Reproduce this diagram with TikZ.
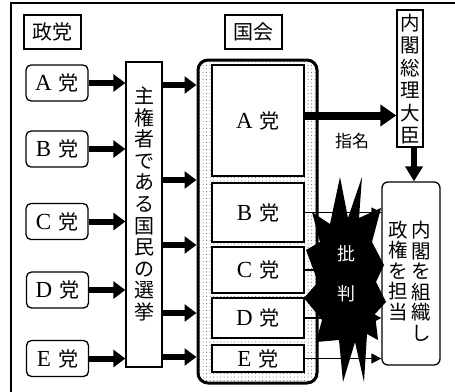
\documentclass[tikz,border=0pt]{standalone}
\usepackage{fontspec}
\setmainfont{Liberation Serif}
\newfontfamily\jp{Noto Sans CJK JP}
\newfontfamily\lat{Liberation Serif}
\newcommand{\pty}[1]{{\lat\fontsize{23}{24}\selectfont #1}\hspace{7pt}{\jp\fontsize{20}{22}\selectfont 党}}
\usetikzlibrary{arrows.meta,patterns.meta}
\begin{document}
\begin{tikzpicture}[x=1pt,y=-1pt,
  lbl/.style={draw,line width=1.2pt,inner sep=0pt,font={\jp\fontsize{20}{22}\selectfont}},
  party/.style={draw,line width=1.3pt,rounded corners=5pt,inner sep=0pt,minimum width=62pt,minimum height=36pt},
  innerbox/.style={draw,line width=1.6pt,fill=white,inner sep=0pt,minimum width=92pt},
  vtext/.style={align=center,inner sep=0pt},
  fatarrow/.style={line width=6pt,-{Triangle[length=12pt,width=17pt]}},
  opp/.style={line width=1.5pt,-{Triangle[length=10pt,width=10pt]}}]
\useasboundingbox (0,0) rectangle (455,391);
% outer frame (cropped at right and bottom)
\draw[line width=1.5pt] (11,400) -- (11,3) -- (470,3);
% left column
\node[lbl,minimum width=57pt,minimum height=34pt] (lp) at (52.5,32) {政党};
\node[party] (pa) at (57,83) {\pty{A}};
\node[party] (pb) at (57,149) {\pty{B}};
\node[party] (pc) at (57,221.5) {\pty{C}};
\node[party] (pd) at (57.5,290) {\pty{D}};
\node[party] (pe) at (57.5,358.5) {\pty{E}};
% voters box
\node[draw,line width=1.3pt,minimum width=36pt,minimum height=305pt,inner sep=0pt] (vb) at (144,214.5) {};
\node[vtext,font={\jp\fontsize{20}{21.6}\selectfont}] (vt) at (144,204) {主\\権\\者\\で\\あ\\る\\国\\民\\の\\選\\挙};
% diet
\node[lbl,minimum width=57pt,minimum height=34pt] (ld) at (253.5,32) {国会};
\node[draw,line width=3pt,rounded corners=10pt,minimum width=119pt,minimum height=323pt,inner sep=0pt,
  pattern={Dots[distance=3.5pt,radius=0.5pt]},pattern color=black!65] (diet) at (257.5,221.5) {};
\node[innerbox,minimum height=111pt] (ia) at (258,120.5) {\pty{A}};
\node[innerbox,minimum height=59pt] (ib) at (258,212.5) {\pty{B}};
\node[innerbox,minimum height=46pt] (ic) at (258,270) {\pty{C}};
\node[innerbox,minimum height=40pt] (id) at (258,318) {\pty{D}};
\node[innerbox,minimum height=27pt] (ie) at (258,358.5) {\pty{E}};
% PM and cabinet
\node[draw,line width=1.3pt,minimum width=26pt,minimum height=137pt,inner sep=0pt] (pm) at (410,78.5) {};
\node[vtext,font={\jp\fontsize{19.5}{22.5}\selectfont}] (pmt) at (410,79) {内\\閣\\総\\理\\大\\臣};
\node[draw,line width=1.3pt,rounded corners=6pt,minimum width=58pt,minimum height=183pt,inner sep=0pt] (cab) at (411,273.5) {};
\node[vtext,font={\jp\fontsize{19.5}{20.5}\selectfont}] (cab1) at (421,281.5) {内\\閣\\を\\組\\織\\し};
\node[vtext,font={\jp\fontsize{19.5}{20.5}\selectfont}] (cab2) at (398,271) {政\\権\\を\\担\\当};
\node[font={\jp\fontsize{17}{19}\selectfont},inner sep=0pt] (nm) at (352,141) {指名};
% arrows parties -> voters
\foreach \p in {pa,pb,pc,pd,pe}
  \draw[fatarrow] (\p.east) -- (\p.east -| vb.west);
% arrows voters -> diet
\foreach \yy/\n in {85/v1,180/v2,245/v3,313/v4,357/v5}{
  \coordinate (\n) at (163,\yy);
  \draw[fatarrow] (\n) -- (\n -| diet.west);
}
% nomination
\draw[line width=8pt,-{Triangle[length=16pt,width=21pt]}] ([yshift=5pt]ia.east) -- ([yshift=5pt]ia.east -| pm.west);
\draw[line width=6pt,-{Triangle[length=15pt,width=17pt]}] ([xshift=4pt]pm.south) -- ([xshift=4pt]pm.south |- cab.north);
% opposition lines
\foreach \p in {ib,ic,id,ie}
  \draw[opp] (\p.east) -- (\p.east -| cab.west);
% burst
\fill[black] (340,177) -- (348,218) -- (362,177) -- (359,218) -- (381,208) -- (372,242)
  -- (384,265) -- (376,282) -- (386,302) -- (375,314) -- (378,340) -- (367,334)
  -- (364,382) -- (355,342) -- (343,382) -- (339,340) -- (316,342) -- (322,320)
  -- (304,298) -- (318,282) -- (306,250) -- (320,242) -- (312,212) -- (330,224) -- cycle;
\node[vtext,text=white,font={\jp\fontsize{18}{40}\selectfont}] (crit) at (346,274) {批\\判};
\end{tikzpicture}
\end{document}
